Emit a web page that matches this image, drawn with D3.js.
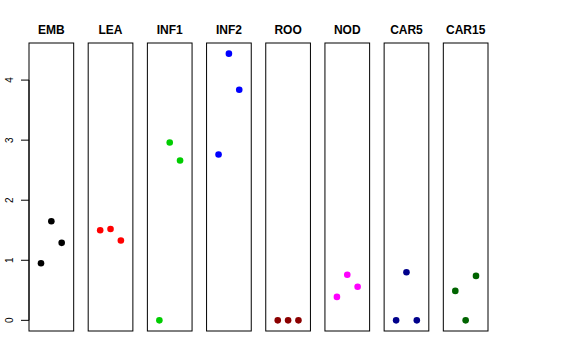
<!DOCTYPE html>
<html>
<head>
<meta charset="utf-8">
<script src="https://cdn.jsdelivr.net/npm/d3@7"></script>
<style>
  body { margin: 0; background: #fff; }
  text { font-family: "Liberation Sans", Arial, Helvetica, sans-serif; }
</style>
</head>
<body>
<svg id="chart" width="576" height="360"></svg>
<script>
// tissues, one panel each
const tissues = ['EMB', 'LEA', 'INF1', 'INF2', 'ROO', 'NOD', 'CAR5', 'CAR15'];
const colours = ['#000000', '#ff0000', '#00cd00', '#0000ff', '#8b0000', '#ff00ff', '#00008b', '#006400'];
// three replicates per tissue
const replicates = [1, 2, 3];
const EMB = [0.95, 1.65, 1.29];
const LEA = [1.50, 1.52, 1.33];
const INF1 = [0.00, 2.96, 2.66];
const INF2 = [2.76, 4.44, 3.84];
const ROO = [0.00, 0.00, 0.00];
const NOD = [0.39, 0.76, 0.56];
const CAR5 = [0.00, 0.80, 0.00];
const CAR15 = [0.49, 0.00, 0.74];
const yTicks = [0, 1, 2, 3, 4];

const series = [EMB, LEA, INF1, INF2, ROO, NOD, CAR5, CAR15];

const svg = d3.select('#chart');
const cs = {
  top: 43,
  bottom: 331,
  left: 29,
  right: 488,
  pointR: 3.3,
};

// R style 4% padding on the data range
const all = series.flat();
const lo = d3.min(all), hi = d3.max(all);
const pad = (hi - lo) * 0.04;
const y = d3.scaleLinear().domain([lo - pad, hi + pad]).range([cs.bottom, cs.top]);

const panel = d3.scaleBand().domain(tissues).range([cs.left, cs.right])
  .paddingInner(0.245).paddingOuter(0);

const xIn = d3.scaleLinear().domain([1 - 1.16, 3 + 1.16]).range([0, panel.bandwidth()]);

const panels = svg.selectAll('g.panel')
  .data(tissues)
  .enter()
  .append('g')
  .attr('class', 'panel')
  .attr('transform', d => `translate(${panel(d)},0)`);

panels.append('text')
  .attr('x', panel.bandwidth() / 2)
  .attr('y', 34.3)
  .attr('text-anchor', 'middle')
  .attr('font-size', '12px')
  .attr('font-weight', 'bold')
  .text(d => d);

panels.selectAll('circle')
  .data((d, i) => series[i].map((v, j) => ({ rep: replicates[j], v, c: colours[i] })))
  .enter()
  .append('circle')
  .attr('cx', d => xIn(d.rep))
  .attr('cy', d => y(d.v))
  .attr('r', cs.pointR)
  .attr('fill', d => d.c);

panels.append('rect')
  .attr('x', 0)
  .attr('y', cs.top)
  .attr('width', panel.bandwidth())
  .attr('height', cs.bottom - cs.top)
  .attr('fill', 'none')
  .attr('stroke', '#000')
  .attr('stroke-width', 1);

// y axis on the first panel only
const axis = svg.append('g')
  .attr('transform', `translate(${cs.left},0)`);
axis.append('line')
  .attr('x1', 0).attr('x2', 0)
  .attr('y1', y(yTicks[0])).attr('y2', y(yTicks[yTicks.length - 1]))
  .attr('stroke', '#000');
axis.selectAll('line.tick')
  .data(yTicks)
  .enter()
  .append('line')
  .attr('class', 'tick')
  .attr('x1', -8).attr('x2', 0)
  .attr('y1', d => y(d)).attr('y2', d => y(d))
  .attr('stroke', '#000');
axis.selectAll('text')
  .data(yTicks)
  .enter()
  .append('text')
  .attr('transform', d => `translate(-16.5,${y(d)}) rotate(-90)`)
  .attr('text-anchor', 'middle')
  .attr('font-size', '10px')
  .text(d => d);
</script>
</body>
</html>
